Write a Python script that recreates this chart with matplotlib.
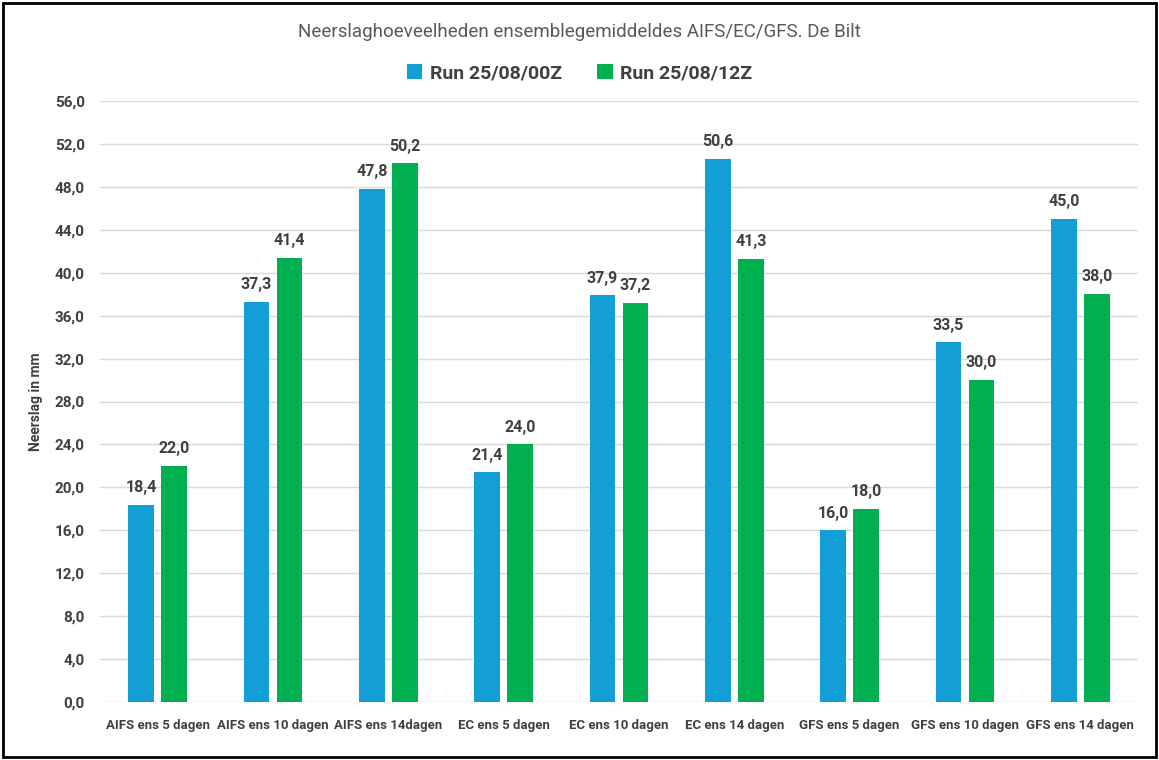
import matplotlib
matplotlib.use("Agg")
import matplotlib.pyplot as plt
import numpy as np
from matplotlib.patches import Rectangle

categories = ["AIFS ens 5 dagen", "AIFS ens 10 dagen", "AIFS ens 14dagen",
              "EC ens 5 dagen", "EC ens 10 dagen", "EC ens 14 dagen",
              "GFS ens 5 dagen", "GFS ens 10 dagen", "GFS ens 14 dagen"]
run_00z = [18.4, 37.3, 47.8, 21.4, 37.9, 50.6, 16.0, 33.5, 45.0]
run_12z = [22.0, 41.4, 50.2, 24.0, 37.2, 41.3, 18.0, 30.0, 38.0]
series_names = ["Run 25/08/00Z", "Run 25/08/12Z"]
title = "Neerslaghoeveelheden ensemblegemiddeldes AIFS/EC/GFS. De Bilt"
ylabel = "Neerslag in mm"

BLUE = "#139FD6"
GREEN = "#00B050"
TXT = "#404040"
FONT = ["Roboto", "DejaVu Sans"]

W, H = 1159, 760
fig = plt.figure(figsize=(W / 100, H / 100), dpi=100)
fig.patch.set_facecolor("white")

# frame around the figure
fig.add_artist(Rectangle((3 / W, 3 / H), (W - 6) / W, (H - 6) / H,
                         transform=fig.transFigure, fill=False,
                         edgecolor="black", linewidth=2))

left, right = 100 / W, 1138 / W
bottom, top = 1 - 702 / H, 1 - 101 / H
ax = fig.add_axes([left, bottom, right - left, top - bottom])

x = np.arange(len(categories))
bw = 0.225
off = 0.143
b1 = ax.bar(x - off, run_00z, bw, color=BLUE, label=series_names[0], zorder=3)
b2 = ax.bar(x + off, run_12z, bw, color=GREEN, label=series_names[1], zorder=3)

ax.set_xlim(-0.5, len(categories) - 0.5)
ax.set_ylim(0, 56)
yt = np.arange(0, 57, 4)
ax.set_yticks(yt)
ax.set_yticklabels([f"{v:.1f}".replace(".", ",") for v in yt],
                   family=FONT, fontsize=11, fontweight="bold", color=TXT)
ax.set_xticks(x)
ax.set_xticklabels(categories, family=FONT, fontsize=9.5,
                   fontweight="bold", color=TXT)
ax.tick_params(axis="both", length=0)
ax.tick_params(axis="y", pad=11)
ax.tick_params(axis="x", pad=12)
ax.grid(axis="y", color="#D9D9D9", linewidth=1, zorder=0)
for s in ax.spines.values():
    s.set_visible(False)

for bars, vals in ((b1, run_00z), (b2, run_12z)):
    for rect, v in zip(bars, vals):
        ax.annotate(f"{v:.1f}".replace(".", ","),
                    (rect.get_x() + rect.get_width() / 2, v),
                    xytext=(0, 7), textcoords="offset points",
                    ha="center", va="bottom", family=FONT,
                    fontsize=11.5, fontweight="bold", color=TXT)

ax.set_ylabel(ylabel, family=FONT, fontsize=10, fontweight="bold",
              color=TXT, labelpad=8)

fig.text(0.5, 1 - 32 / H, title, ha="center", va="center",
         family=FONT, fontsize=13.5, color="#595959")

leg = fig.legend(handles=[b1, b2], labels=series_names, loc="center",
                 bbox_to_anchor=(0.5, 1 - 73 / H), ncol=2, frameon=False,
                 handlelength=0.8, handleheight=0.8, handletextpad=0.4,
                 columnspacing=1.8,
                 prop={"family": FONT, "size": 14, "weight": "bold"})
for t in leg.get_texts():
    t.set_color(TXT)

fig.savefig("out.png", dpi=100)
